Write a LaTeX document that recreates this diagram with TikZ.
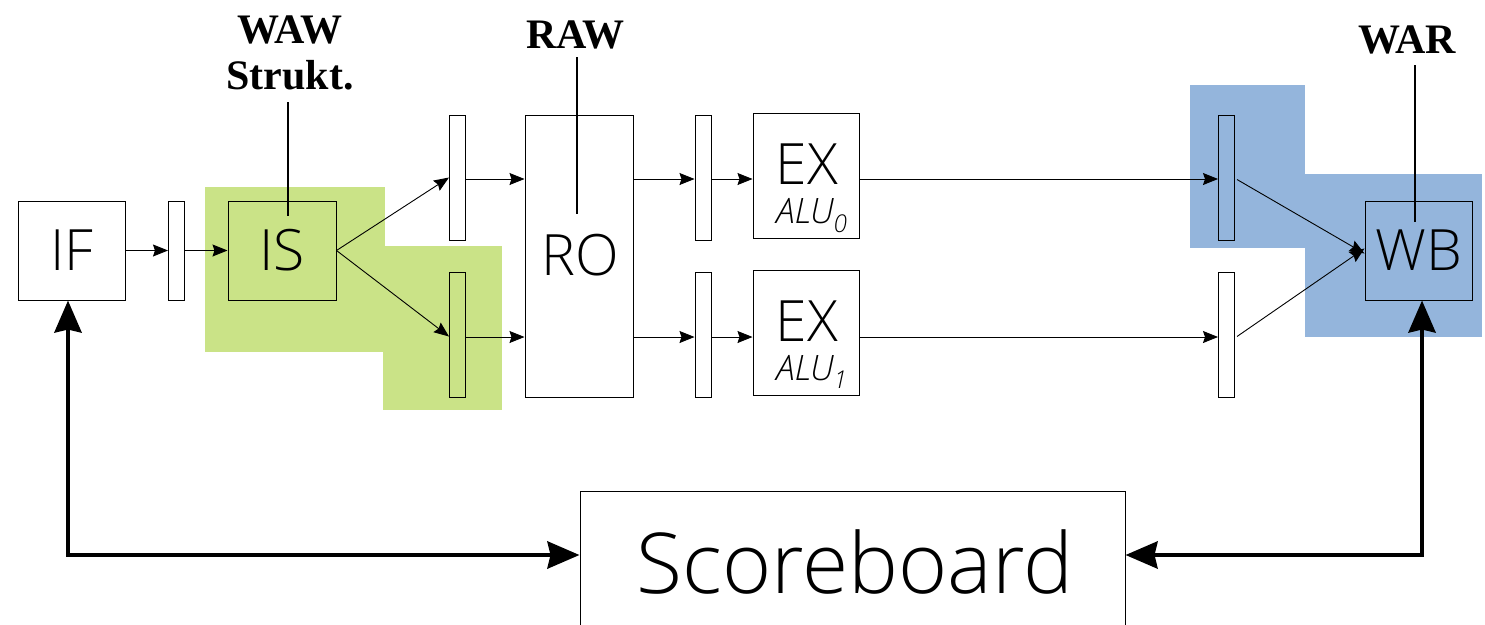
\documentclass[tikz,border=0pt]{standalone}
\usepackage{fontspec}
\IfFontExistsTF{Open Sans Light}{\setsansfont{Open Sans Light}}{\setsansfont{Open Sans}}
\setmainfont{Liberation Serif}
\usetikzlibrary{arrows.meta}
\definecolor{grn}{RGB}{202,227,135}
\definecolor{blu}{RGB}{148,181,220}
\begin{document}
\begin{tikzpicture}[x=1pt,y=-1pt,
  box/.style={draw, line width=1pt, inner sep=0pt, font=\sffamily\fontsize{57}{57}\selectfont},
  latch/.style={draw, line width=1pt, minimum width=16pt, minimum height=125pt, inner sep=0pt},
  conn/.style={line width=0.9pt, -{Stealth[length=15pt,width=12pt,inset=2pt]}},
  big/.style={line width=4.5pt, {Stealth[length=32pt,width=27pt,inset=3pt]}-{Stealth[length=32pt,width=27pt,inset=3pt]}},
  lab/.style={font=\bfseries\fontsize{42}{46}\selectfont, align=center, inner sep=0pt},
  tag/.style={line width=1.6pt},
  alu/.style={font=\sffamily\itshape\fontsize{35}{35}\selectfont, inner sep=0pt, anchor=base},
  ex/.style={font=\sffamily\fontsize{57}{57}\selectfont, inner sep=0pt, anchor=base},
]
\useasboundingbox (0,0) rectangle (1485,624);
% coloured regions
\fill[grn] (205,187) rectangle (385,352);
\fill[grn] (383,246) rectangle (502,410);
\fill[blu] (1190,85) rectangle (1305,248);
\fill[blu] (1305,174) rectangle (1482,337);

% boxes
\node[box, minimum width=107pt, minimum height=99pt] (IF) at (71.5,250.5) {IF};
\node[latch, minimum height=99pt] (L0) at (176.5,250.5) {};
\node[box, minimum width=108pt, minimum height=99pt] (IS) at (282,250.5) {IS};
\node[latch] (L1a) at (457.5,177.5) {};
\node[latch] (L1b) at (457.5,334.5) {};
\node[box, minimum width=108pt, minimum height=282pt] (RO) at (579,256) {};
\node[ex] (ROt) at (580,275) {RO};
\node[latch] (L2a) at (703,177.5) {};
\node[latch] (L2b) at (703,334.5) {};
\node[box, minimum width=106pt, minimum height=125pt] (EX0) at (806,175.5) {};
\node[box, minimum width=106pt, minimum height=125pt] (EX1) at (806,332.5) {};
\node[ex] (EX0t) at (807,184) {EX};
\node[alu] (A0) at (812,223) {ALU\textsubscript{0}};
\node[ex] (EX1t) at (807,341) {EX};
\node[alu] (A1) at (812,380) {ALU\textsubscript{1}};
\node[latch] (L3a) at (1226.5,177.5) {};
\node[latch] (L3b) at (1226.5,334.5) {};
\node[box, minimum width=107pt, minimum height=99pt] (WB) at (1418.5,250.5) {WB};
\node[draw, line width=1pt, minimum width=545pt, minimum height=150pt, inner sep=0pt] (SB) at (852.5,566) {};
\node[font=\sffamily\fontsize{84}{84}\selectfont, inner sep=0pt] (SBt) at (855,562) {Scoreboard};

% labels
\node[lab] (waw) at (290,53) {WAW\\Strukt.};
\node[lab] (raw) at (575,35) {RAW};
\node[lab] (war) at (1407,40) {WAR};
\draw[tag] (288,102) -- (288,216);
\draw[tag] (577,57) -- (577,214);
\draw[tag] (1415,65) -- (1415,222);

% thin connectors
\draw[conn] (IF.east) -- (L0.west);
\draw[conn] (L0.east) -- (IS.west);
\draw[conn] (IS.east) -- (L1a.west);
\draw[conn] (IS.east) -- ([yshift=-2pt]L1b.west);
\draw[conn] ([yshift=-1.5pt]L1a.east) -- ([yshift=-1.5pt]L1a.east -| RO.west);
\draw[conn] ([yshift=-2.5pt]L1b.east) -- ([yshift=-2.5pt]L1b.east -| RO.west);
\draw[conn] ([yshift=-1.5pt]L1a.east -| RO.east) -- ([yshift=-1.5pt]L2a.west);
\draw[conn] ([yshift=-2.5pt]L1b.east -| RO.east) -- ([yshift=-2.5pt]L2b.west);
\draw[conn] ([yshift=-1.5pt]L2a.east) -- ([yshift=-1.5pt]L2a.east -| EX0.west);
\draw[conn] ([yshift=-2.5pt]L2b.east) -- ([yshift=-2.5pt]L2b.east -| EX1.west);
\draw[conn] ([yshift=-1.5pt]L2a.east -| EX0.east) -- ([yshift=-1.5pt]L3a.west);
\draw[conn] ([yshift=-2.5pt]L2b.east -| EX1.east) -- ([yshift=-2.5pt]L3b.west);
\draw[conn] ([xshift=2pt,yshift=-2pt]L3a.east) -- ([yshift=-3pt]WB.west);
\draw[conn] ([xshift=2pt,yshift=-2pt]L3b.east) -- ([yshift=2pt]WB.west);

% thick feedback connectors
\coordinate (c1) at (68,555);
\coordinate (c2) at (1422,555);
\draw[big] ([xshift=-3.5pt]IF.south) -- (c1) -- (c1 -| SB.west);
\draw[big] (c2 -| SB.east) -- (c2) -- ([xshift=3.5pt]WB.south);
\end{tikzpicture}
\end{document}
